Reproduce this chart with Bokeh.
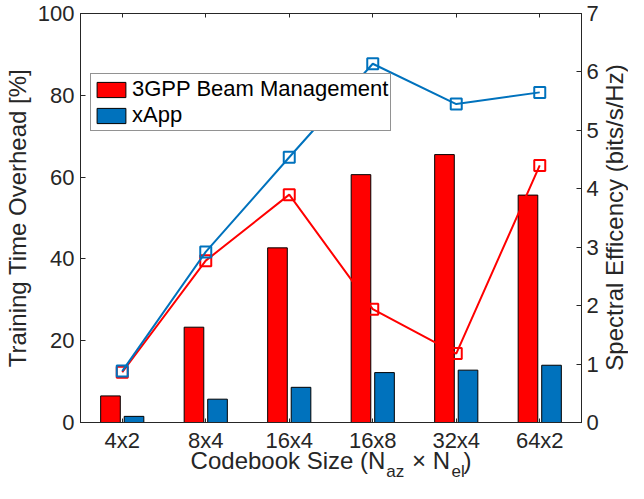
import math
from bokeh.plotting import figure
from bokeh.layouts import row
from bokeh.models import (FactorRange, Range1d, LinearAxis, CategoricalAxis, FixedTicker,
                          Legend, LegendItem, Label, ColumnDataSource)
from bokeh.transform import dodge
from bokeh.embed import file_html
from bokeh.resources import INLINE

# ---- data ----
categories = ["4x2", "8x4", "16x4", "16x8", "32x4", "64x2"]
overhead_3gpp = [6.5, 23.3, 42.7, 60.6, 65.5, 55.6]
overhead_xapp = [1.5, 5.7, 8.6, 12.2, 12.8, 14.0]
se_3gpp = [0.86, 2.77, 3.90, 1.94, 1.18, 4.40]
se_xapp = [0.88, 2.92, 4.54, 6.14, 5.45, 5.65]
left_ticks = [0, 20, 40, 60, 80, 100]
right_ticks = [0, 1, 2, 3, 4, 5, 6, 7]
series_names = ["3GPP Beam Management", "xApp"]
left_label = "Training Time Overhead [%]"
right_label = "Spectral Efficency (bits/s/Hz)"

# x title "Codebook Size (N_az x N_el)": main line with gaps + subscript line
NB = "\u00a0"
x_label_main = "Codebook Size (N" + NB * 4 + "\u00d7" + NB + "N" + NB * 2 + ")"
x_label_subs = NB * 40 + "az" + NB * 10 + "el"

FONT = "Liberation Sans"
TXT = "#262626"
RED = "#FF0000"
BLUE = "#0072BD"
TICK_FS = "22px"
LAB_FS = "24px"
SUB_FS = "17px"

W_MAIN, H_MAIN = 601, 483
W_RIGHT = 628 - W_MAIN
MB_L, MB_R, MB_T, MB_B = 75, 17, 13, 60

src = ColumnDataSource(dict(cat=categories, o3=overhead_3gpp, ox=overhead_xapp,
                            s3=se_3gpp, sx=se_xapp))

p = figure(width=W_MAIN, height=H_MAIN,
           x_range=FactorRange(factors=categories, range_padding=0),
           y_range=Range1d(0, 100),
           output_backend="svg", toolbar_location=None,
           min_border_left=MB_L, min_border_right=MB_R, min_border_top=MB_T,
           min_border_bottom=MB_B,
           x_axis_location=None, y_axis_location=None)
p.extra_y_ranges = {"se": Range1d(0, 7)}
p.xgrid.visible = False
p.ygrid.visible = False
p.outline_line_color = TXT
p.outline_line_width = 1
p.background_fill_color = "white"
p.border_fill_color = "white"


def style_axis(ax):
    ax.axis_line_color = TXT
    ax.major_tick_line_color = TXT
    ax.major_tick_in = 5
    ax.major_tick_out = 0
    ax.minor_tick_line_color = None
    ax.major_label_text_font = FONT
    ax.major_label_text_font_size = TICK_FS
    ax.major_label_text_color = TXT
    ax.axis_label_text_font = FONT
    ax.axis_label_text_font_size = LAB_FS
    ax.axis_label_text_color = TXT
    ax.axis_label_text_font_style = "normal"


left = LinearAxis(ticker=FixedTicker(ticks=left_ticks), axis_label=left_label)
style_axis(left)
left.major_label_standoff = 6
left.axis_label_standoff = 4
p.add_layout(left, "left")

right = LinearAxis(y_range_name="se", ticker=FixedTicker(ticks=right_ticks))
style_axis(right)
right.major_label_standoff = 5
p.add_layout(right, "right")

bottom = CategoricalAxis(axis_label=x_label_main)
style_axis(bottom)
bottom.major_tick_in = 4
bottom.major_label_standoff = 5
bottom.axis_label_standoff = -9
p.add_layout(bottom, "below")

# second (invisible) bottom axis that only carries the subscripts of the x title
subs = CategoricalAxis(axis_label=x_label_subs)
style_axis(subs)
subs.axis_line_color = None
subs.major_tick_line_color = None
subs.major_tick_in = 0
subs.major_label_text_font_size = "1px"
subs.major_label_text_color = None
subs.major_label_standoff = 0
subs.axis_label_text_font_size = SUB_FS
subs.axis_label_standoff = -15
p.add_layout(subs, "below")

top = CategoricalAxis()
style_axis(top)
top.major_tick_in = 4
top.major_label_text_font_size = "1px"
top.major_label_text_color = None
top.major_label_standoff = 0
p.add_layout(top, "above")

r_red = p.vbar(x=dodge("cat", -0.141, range=p.x_range), top="o3", width=0.235, source=src,
               fill_color=RED, line_color="black", line_width=1)
r_blue = p.vbar(x=dodge("cat", 0.141, range=p.x_range), top="ox", width=0.235, source=src,
                fill_color=BLUE, line_color="black", line_width=1)

p.line(x="cat", y="s3", source=src, y_range_name="se", line_color=RED, line_width=2)
p.scatter(x="cat", y="s3", source=src, y_range_name="se", marker="square", size=11,
          fill_color=None, line_color=RED, line_width=2)
p.line(x="cat", y="sx", source=src, y_range_name="se", line_color=BLUE, line_width=2)
p.scatter(x="cat", y="sx", source=src, y_range_name="se", marker="square", size=11,
          fill_color=None, line_color=BLUE, line_width=2)

legend = Legend(items=[LegendItem(label=series_names[0], renderers=[r_red]),
                       LegendItem(label=series_names[1], renderers=[r_blue])],
                location=(10, 291), orientation="vertical",
                border_line_color=TXT, border_line_width=1,
                background_fill_color="white", background_fill_alpha=1,
                padding=2, spacing=0, margin=0, label_standoff=3,
                glyph_width=36, glyph_height=19, label_height=19,
                label_text_font=FONT, label_text_font_size="22px", label_text_color="black",
                label_text_line_height=1.0)
p.add_layout(legend, "center")

# right axis title in a narrow companion panel (reads bottom to top, like the reference)
p_right = figure(width=W_RIGHT, height=H_MAIN, x_range=Range1d(0, 1), y_range=Range1d(0, 1),
                 output_backend="svg", toolbar_location=None, min_border=0,
                 x_axis_location=None, y_axis_location=None)
p_right.outline_line_color = None
p_right.background_fill_color = "white"
p_right.border_fill_color = "white"
p_right.grid.visible = False
frame_h = H_MAIN - MB_T - MB_B
p_right.add_layout(Label(x=13, y=frame_h / 2, x_units="screen", y_units="screen",
                         text=right_label, angle=math.pi / 2, text_align="center",
                         text_baseline="middle", text_font=FONT, text_font_size=LAB_FS,
                         text_color=TXT))

layout = row(p, p_right, spacing=0)
open("out.html", "w").write(file_html(layout, INLINE))
